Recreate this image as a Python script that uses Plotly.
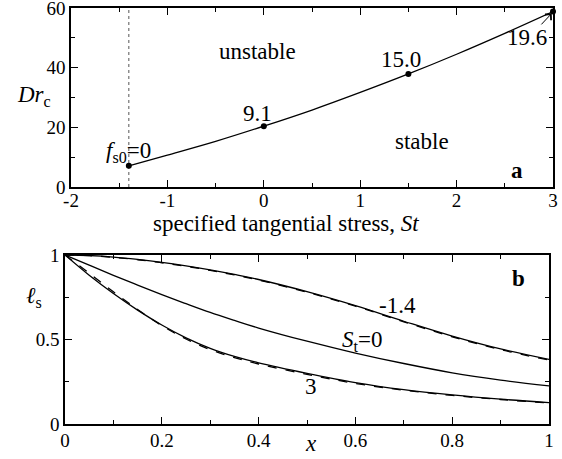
import plotly.graph_objects as go

# ---- panel a data ----
st_curve = [-1.4, -1.0, -0.5, 0.0, 0.5, 1.0, 1.5, 2.0, 2.5, 3.0]
dr_curve = [7.1, 10.7, 15.3, 20.4, 25.8, 31.7, 37.9, 44.5, 51.5, 58.8]
st_points = [-1.4, 0.0, 1.5, 3.0]
dr_points = [7.1, 20.4, 37.9, 58.8]
point_labels = ["<i>f</i><sub>s0</sub>=0", "9.1", "15.0", "19.6"]
vline_x = [-1.4, -1.4]
vline_y = [0, 60]
xa_tickvals = [-2, -1, 0, 1, 2, 3]
xa_ticktext = ["-2", "-1", "0", "1", "2", "3"]

# ---- panel b data ----
x_b = [0.0, 0.05, 0.1, 0.15, 0.2, 0.25, 0.3, 0.35, 0.4, 0.5, 0.6, 0.7, 0.8, 0.9, 1.0]
ls_m14_solid = [1.0, 0.997, 0.988, 0.974, 0.957, 0.936, 0.912, 0.885, 0.855, 0.783, 0.700, 0.608, 0.520, 0.444, 0.382]
ls_m14_dash = [1.0, 0.996, 0.986, 0.972, 0.954, 0.933, 0.909, 0.882, 0.852, 0.780, 0.697, 0.605, 0.516, 0.440, 0.378]
ls_0_solid = [1.0, 0.940, 0.880, 0.822, 0.766, 0.712, 0.660, 0.613, 0.568, 0.490, 0.420, 0.358, 0.303, 0.260, 0.225]
ls_3_solid = [1.0, 0.880, 0.772, 0.674, 0.586, 0.510, 0.448, 0.400, 0.362, 0.300, 0.245, 0.203, 0.172, 0.147, 0.127]
ls_3_dash = [1.0, 0.892, 0.782, 0.678, 0.582, 0.503, 0.440, 0.393, 0.355, 0.294, 0.240, 0.200, 0.169, 0.145, 0.124]

FONT = "Liberation Serif, serif"
TICK_FS = 19
FS = 23
W, H = 562, 459

fig = go.Figure()

# panel a
fig.add_trace(go.Scatter(x=vline_x, y=vline_y, mode="lines",
                         line=dict(color="#555", width=1, dash="dot"),
                         xaxis="x", yaxis="y", showlegend=False))
fig.add_trace(go.Scatter(x=st_curve, y=dr_curve, mode="lines", line_shape="spline",
                         line=dict(color="black", width=1.3),
                         xaxis="x", yaxis="y", showlegend=False))
fig.add_trace(go.Scatter(x=st_points, y=dr_points, mode="markers",
                         marker=dict(color="black", size=6),
                         xaxis="x", yaxis="y", showlegend=False, cliponaxis=False))

# panel b
for ys, dash in [(ls_m14_solid, "solid"), (ls_m14_dash, "dash"),
                 (ls_0_solid, "solid"),
                 (ls_3_solid, "solid"), (ls_3_dash, "dash")]:
    fig.add_trace(go.Scatter(x=x_b, y=ys, mode="lines", line_shape="spline",
                             line=dict(color="black", width=1.3, dash=dash),
                             xaxis="x2", yaxis="y2", showlegend=False))

def ax(domain, rng, dtick, minor_dtick, anchor):
    return dict(domain=domain, range=rng, dtick=dtick, tick0=0, automargin=False,
                ticklabeloverflow="allow",
                showgrid=False, zeroline=False, showline=True, linecolor="black",
                linewidth=1.6, mirror="allticks", ticks="inside", ticklen=7,
                tickwidth=1.3, tickcolor="black", anchor=anchor,
                tickfont=dict(family=FONT, size=TICK_FS, color="black"),
                minor=dict(ticks="inside", ticklen=4, dtick=minor_dtick,
                           tickcolor="black", tickwidth=1.3, showgrid=False))

px = lambda p: p / W
py = lambda p: 1 - p / H

xa = ax([px(71), px(553)], [-2, 3], 1, 0.5, "y")
xa.update(tickmode="array", tickvals=xa_tickvals, ticktext=xa_ticktext,
          ticklabelstandoff=-5)
xb = ax([px(65), px(549)], [0, 1], 0.2, 0.1, "y2")
xb.update(ticklabelstandoff=-2)

fig.update_layout(
    width=W, height=H, margin=dict(l=0, r=0, t=0, b=0, autoexpand=False),
    paper_bgcolor="white", plot_bgcolor="white",
    xaxis=xa,
    yaxis=ax([py(187), py(8)], [0, 60], 20, 10, "x"),
    xaxis2=xb,
    yaxis2=ax([py(424), py(255)], [0, 1], 0.5, 0.25, "x2"),
    font=dict(family=FONT, size=FS, color="black"),
)

ann = []
def t(text, x, y, xref="x", yref="y", size=FS):
    ann.append(dict(text=text, x=x, y=y, xref=xref, yref=yref, showarrow=False,
                    font=dict(family=FONT, size=size, color="black"),
                    xanchor="center", yanchor="middle"))

# panel a labels
t("unstable", -0.065, 45.3)
t("stable", 1.636, 15.1)
t("<b>a</b>", 2.627, 5.7)
t(point_labels[0], -1.40, 11.6)
t(point_labels[1], -0.065, 24.8)
t(point_labels[2], 1.423, 42.6)
t(point_labels[3], 2.735, 50.1)
ann.append(dict(x=2.987, y=58.2, ax=2.865, ay=54.0, xref="x", yref="y",
                axref="x", ayref="y", text="", showarrow=True, arrowhead=4,
                arrowsize=1.6, arrowwidth=1, arrowcolor="black"))
t("<i>Dr</i><sub>c</sub>", px(34), py(96), "paper", "paper")
t("specified tangential stress, <i>St</i>", px(286), py(223), "paper", "paper")

# panel b labels
t("-1.4", 0.688, 0.70, "x2", "y2")
t("<i>S</i><sub>t</sub>=0", 0.614, 0.49, "x2", "y2")
t("3", 0.508, 0.22, "x2", "y2")
t("<b>b</b>", 0.938, 0.86, "x2", "y2")
t("<i>ℓ</i><sub>s</sub>", px(34), py(297), "paper", "paper")
t("<i>x</i>", px(311), py(443), "paper", "paper")

fig.update_layout(annotations=ann)
fig.write_html("out.html", config={"displayModeBar": False},
               post_script="document.body.style.margin='0';document.body.style.overflow='hidden';")
